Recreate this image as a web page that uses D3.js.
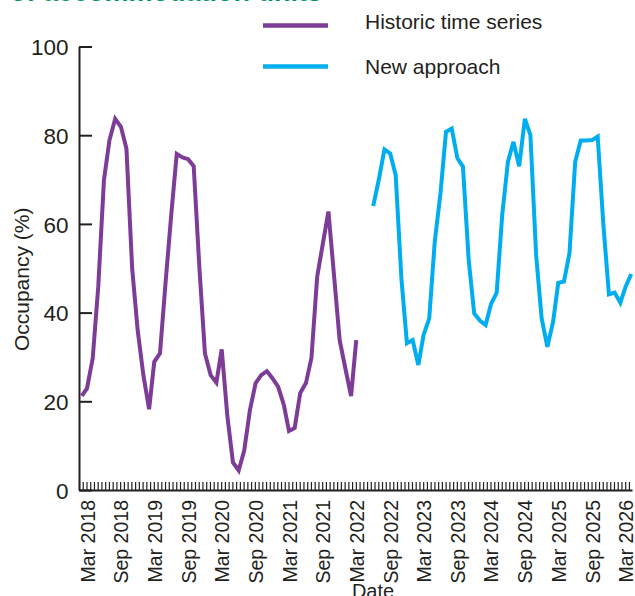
<!DOCTYPE html>
<html>
<head>
<meta charset="utf-8">
<script src="https://cdn.jsdelivr.net/npm/d3@7"></script>
<style>
  html, body { margin: 0; padding: 0; background: #fff; }
  svg { display: block; }
  text { font-family: "Liberation Sans", Arial, Helvetica, sans-serif; fill: #231f20; }
</style>
</head>
<body>
<svg id="chart" width="635" height="596"></svg>
<script>
// ---- data ----
const titleText = "of accommodation units";
const seriesNames = ["Historic time series", "New approach"];
const seriesColors = ["#7d3c98", "#00aeef"];

const historicStart = "2018-02";
const historicValues = [21.2, 22.9, 29.7, 45.8, 69.9, 78.9, 83.7, 81.9, 77.0, 50.0,
  36.0, 25.9, 18.2, 28.9, 30.8, 46.6, 62.0, 75.8, 75.0, 74.6,
  73.0, 50.0, 30.8, 25.9, 24.2, 31.7, 16.5, 6.2, 4.4, 8.9,
  18.0, 24.1, 25.9, 26.8, 25.2, 23.3, 19.2, 13.3, 14.0, 21.9,
  24.1, 29.8, 48.1, 55.6, 62.8, 48.1, 33.8, 27.4, 21.2, 33.8];

const newStart = "2022-06";
const newValues = [64.0, 69.9, 76.8, 75.9, 71.0, 47.7, 33.1, 33.8, 28.2, 34.9,
  38.7, 56.0, 66.9, 80.8, 81.5, 74.8, 72.9, 51.9, 39.8, 38.2,
  37.2, 41.9, 44.5, 62.0, 74.0, 78.5, 73.0, 83.7, 80.0, 53.0,
  38.7, 32.3, 37.9, 46.7, 47.0, 53.4, 74.0, 78.8, 78.8, 78.9,
  79.7, 59.8, 44.1, 44.5, 42.2, 45.8, 48.7];

const yTicks = [0, 20, 40, 60, 80, 100];
const xLabelStart = "2018-03";
const xLabelEnd = "2026-03";
const xLabelStepMonths = 6;
const yTitle = "Occupancy (%)";
const xTitle = "Date";

// ---- helpers ----
const parseM = d3.timeParse("%Y-%m");
const fmt = d3.timeFormat("%b %Y");
function monthly(start, values) {
  const s = parseM(start);
  return values.map((v, i) => ({ date: d3.timeMonth.offset(s, i), value: v }));
}
const series = [monthly(historicStart, historicValues), monthly(newStart, newValues)];

// ---- scales ----
const svg = d3.select("#chart");
const x = d3.scaleTime()
  .domain([parseM(xLabelStart), parseM(xLabelEnd)])
  .range([87, 625.5]);
const axisLeftX = 79, axisRightX = 632;
const xDomainFull = [x.invert(axisLeftX), x.invert(axisRightX)];
const xa = x.copy().domain(xDomainFull).range([axisLeftX, axisRightX]);

const y = d3.scaleLinear().domain([0, 100]).range([490, 46.5]);

// ---- title (cut off at top) ----
svg.append("text")
  .attr("x", 322).attr("y", 0.5)
  .attr("text-anchor", "end")
  .style("font-weight", "bold")
  .style("font-size", "27px")
  .style("fill", "#00975f")
  .text(titleText);

// ---- x axis minor ticks (every ~20 days) ----
const dayMs = 864e5;
const tickStep = 20.3 * dayMs;
const minorTicks = d3.range(xDomainFull[0].getTime(), xDomainFull[1].getTime() + 1, tickStep).map(t => new Date(t));

const gx = svg.append("g").attr("transform", `translate(0,${y(0)})`)
  .call(d3.axisBottom(xa).tickValues(minorTicks).tickSizeInner(-8).tickSizeOuter(0).tickFormat(""));
gx.select(".domain").attr("stroke", "#231f20").attr("stroke-width", 2);
gx.selectAll(".tick line").attr("stroke", "#231f20").attr("stroke-width", 1.2);

// ---- x labels every 6 months ----
const nLabels = d3.timeMonth.count(parseM(xLabelStart), parseM(xLabelEnd)) / xLabelStepMonths;
const labelDates = d3.range(0, nLabels + 1).map(i => d3.timeMonth.offset(parseM(xLabelStart), i * xLabelStepMonths));
const gxl = svg.append("g").attr("transform", `translate(0,${y(0)})`)
  .call(d3.axisBottom(x).tickValues(labelDates).tickSize(0).tickFormat(fmt));
gxl.select(".domain").remove();
gxl.selectAll(".tick text")
  .attr("transform", "rotate(-90)")
  .attr("x", -10).attr("y", 0).attr("dy", "0.36em")
  .attr("text-anchor", "end")
  .style("font-size", "19.5px")
  .style("fill", "#231f20");

// ---- y axis ----
const gy = svg.append("g").attr("transform", `translate(${axisLeftX},0)`)
  .call(d3.axisLeft(y).tickValues(yTicks).tickSizeInner(-13).tickSizeOuter(0));
gy.select(".domain").attr("stroke", "#231f20").attr("stroke-width", 2);
gy.selectAll(".tick line").attr("stroke", "#231f20").attr("stroke-width", 2);
gy.selectAll(".tick text").style("font-size", "22.5px").attr("x", -10.5).attr("dy", "0.36em").style("fill", "#231f20");

// ---- axis titles ----
svg.append("text")
  .attr("transform", `translate(29,${y(47.5)}) rotate(-90)`)
  .attr("text-anchor", "middle")
  .style("font-size", "21px")
  .text(yTitle);
svg.append("text")
  .attr("x", 373).attr("y", 598)
  .attr("text-anchor", "middle")
  .style("font-size", "20px")
  .text(xTitle);

// ---- lines ----
const line = d3.line().x(d => x(d.date)).y(d => y(d.value));
series.forEach((s, i) => {
  svg.append("path")
    .datum(s)
    .attr("fill", "none")
    .attr("stroke", seriesColors[i])
    .attr("stroke-width", 4)
    .attr("stroke-linejoin", "miter")
    .attr("d", line);
});

// ---- legend ----
const legendLineY = [25.5, 66.5];
const legendTextY = [29, 73.5];
const legend = svg.append("g");
seriesNames.forEach((name, i) => {
  legend.append("line")
    .attr("x1", 263).attr("x2", 328)
    .attr("y1", legendLineY[i]).attr("y2", legendLineY[i])
    .attr("stroke", seriesColors[i]).attr("stroke-width", 4.5);
  legend.append("text")
    .attr("x", 365).attr("y", legendTextY[i])
    .style("font-size", "21px")
    .text(name);
});
</script>
</body>
</html>
